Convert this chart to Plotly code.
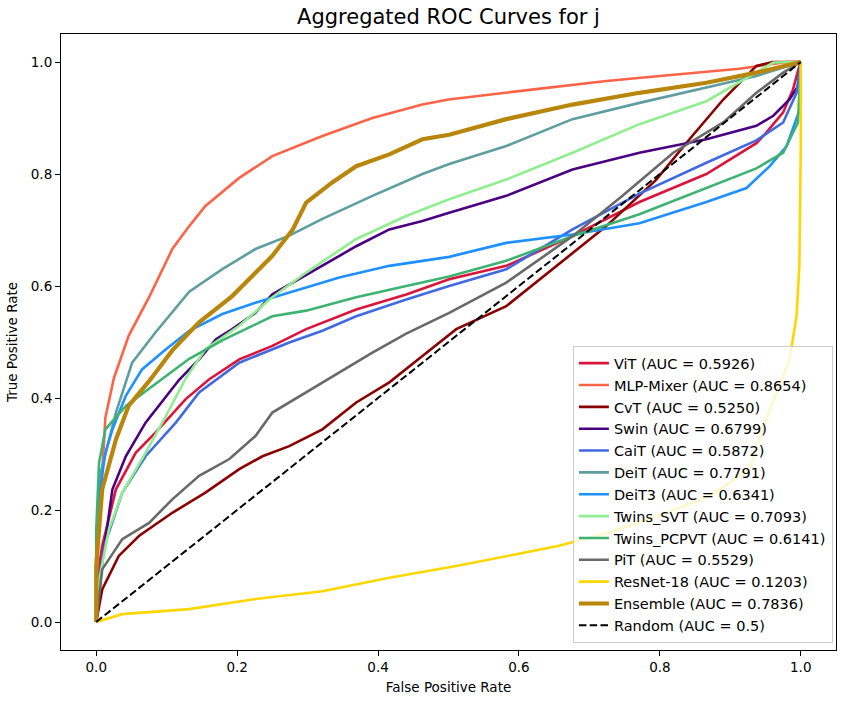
import plotly.graph_objects as go

names = ["ViT", "MLP-Mixer", "CvT", "Swin", "CaiT", "DeiT", "DeiT3", "Twins_SVT",
         "Twins_PCPVT", "PiT", "ResNet-18", "Ensemble"]
aucs = ["0.5926", "0.8654", "0.5250", "0.6799", "0.5872", "0.7791", "0.6341", "0.7093",
        "0.6141", "0.5529", "0.1203", "0.7836"]
colors = ["#DC143C", "#FF6347", "#8B0000", "#4B0082", "#4169E1", "#5F9EA0", "#1E90FF",
          "#90EE90", "#3CB371", "#696969", "#FFD700", "#B8860B"]

vit_fpr = [0, 0.002, 0.0085, 0.028, 0.056, 0.084, 0.127, 0.16, 0.203, 0.25, 0.298, 0.369, 0.44, 0.501, 0.582, 0.676, 0.771, 0.866, 0.937, 0.951, 0.975, 0.989, 0.996, 1.0]
vit_tpr = [0, 0.08, 0.136, 0.237, 0.302, 0.338, 0.398, 0.433, 0.469, 0.493, 0.523, 0.558, 0.585, 0.612, 0.636, 0.689, 0.75, 0.80, 0.855, 0.874, 0.91, 0.951, 0.984, 1.0]

mlp_fpr = [0, 0.002, 0.008, 0.013, 0.025, 0.046, 0.075, 0.108, 0.132, 0.155, 0.203, 0.25, 0.321, 0.392, 0.463, 0.5, 0.6, 0.724, 0.8, 0.913, 0.98, 1.0]
mlp_tpr = [0, 0.15, 0.255, 0.365, 0.435, 0.511, 0.58, 0.666, 0.707, 0.743, 0.793, 0.832, 0.868, 0.90, 0.924, 0.933, 0.948, 0.966, 0.975, 0.988, 1.0, 1.0]

cvt_fpr = [0, 0.0085, 0.032, 0.061, 0.108, 0.155, 0.203, 0.236, 0.274, 0.321, 0.369, 0.416, 0.463, 0.511, 0.582, 0.653, 0.724, 0.795, 0.842, 0.89, 0.937, 0.96, 1.0]
cvt_tpr = [0, 0.058, 0.118, 0.154, 0.195, 0.231, 0.273, 0.296, 0.314, 0.344, 0.392, 0.428, 0.475, 0.523, 0.564, 0.636, 0.707, 0.79, 0.862, 0.933, 0.993, 1.0, 1.0]

swin_fpr = [0, 0.0085, 0.023, 0.042, 0.07, 0.089, 0.118, 0.146, 0.17, 0.193, 0.226, 0.25, 0.288, 0.321, 0.369, 0.416, 0.463, 0.501, 0.582, 0.676, 0.771, 0.866, 0.937, 0.961, 0.984, 0.996, 1.0]
swin_tpr = [0, 0.106, 0.237, 0.296, 0.356, 0.386, 0.433, 0.469, 0.505, 0.523, 0.552, 0.585, 0.612, 0.636, 0.671, 0.701, 0.716, 0.731, 0.761, 0.808, 0.838, 0.862, 0.886, 0.904, 0.933, 0.957, 1.0]

cait_fpr = [0, 0.003, 0.013, 0.037, 0.07, 0.113, 0.146, 0.203, 0.274, 0.321, 0.369, 0.44, 0.501, 0.582, 0.676, 0.771, 0.866, 0.937, 0.975, 0.994, 1.0]
cait_tpr = [0, 0.07, 0.142, 0.231, 0.296, 0.356, 0.41, 0.463, 0.499, 0.52, 0.546, 0.576, 0.60, 0.63, 0.701, 0.765, 0.82, 0.86, 0.892, 0.945, 1.0]

deit_fpr = [0, 0.001, 0.004, 0.028, 0.051, 0.084, 0.132, 0.179, 0.226, 0.274, 0.321, 0.392, 0.463, 0.501, 0.582, 0.676, 0.771, 0.866, 0.937, 1.0]
deit_tpr = [0, 0.15, 0.255, 0.374, 0.463, 0.517, 0.59, 0.63, 0.666, 0.69, 0.72, 0.761, 0.80, 0.818, 0.85, 0.898, 0.927, 0.954, 0.975, 1.0]

deit3_fpr = [0, 0.001, 0.004, 0.013, 0.023, 0.042, 0.065, 0.099, 0.132, 0.179, 0.226, 0.288, 0.345, 0.416, 0.501, 0.582, 0.676, 0.771, 0.866, 0.923, 0.956, 0.98, 0.996, 1.0, 1.0]
deit3_tpr = [0, 0.12, 0.225, 0.302, 0.344, 0.404, 0.451, 0.487, 0.52, 0.55, 0.57, 0.594, 0.615, 0.636, 0.652, 0.677, 0.692, 0.712, 0.75, 0.775, 0.814, 0.85, 0.904, 0.92, 1.0]

svt_fpr = [0, 0.005, 0.018, 0.037, 0.051, 0.07, 0.099, 0.127, 0.155, 0.203, 0.25, 0.298, 0.369, 0.44, 0.501, 0.582, 0.676, 0.771, 0.866, 0.937, 0.961, 1.0]
svt_tpr = [0, 0.08, 0.165, 0.231, 0.261, 0.302, 0.368, 0.435, 0.487, 0.529, 0.58, 0.624, 0.684, 0.725, 0.755, 0.79, 0.838, 0.889, 0.93, 0.981, 0.999, 1.0]

pcpvt_fpr = [0, 0.0, 0.004, 0.013, 0.042, 0.084, 0.132, 0.179, 0.25, 0.298, 0.369, 0.44, 0.501, 0.582, 0.676, 0.771, 0.866, 0.937, 0.975, 0.996, 1.0]
pcpvt_tpr = [0, 0.165, 0.284, 0.344, 0.386, 0.425, 0.47, 0.503, 0.546, 0.556, 0.58, 0.60, 0.617, 0.645, 0.689, 0.728, 0.775, 0.81, 0.838, 0.892, 1.0]

pit_fpr = [0, 0.0085, 0.037, 0.075, 0.108, 0.146, 0.189, 0.226, 0.25, 0.298, 0.345, 0.392, 0.44, 0.501, 0.582, 0.676, 0.747, 0.819, 0.89, 0.937, 0.975, 1.0]
pit_tpr = [0, 0.094, 0.148, 0.177, 0.219, 0.261, 0.291, 0.332, 0.374, 0.41, 0.445, 0.481, 0.515, 0.552, 0.606, 0.689, 0.761, 0.838, 0.892, 0.945, 0.981, 1.0]

resnet_fpr = [0, 0.037, 0.132, 0.226, 0.321, 0.416, 0.511, 0.605, 0.657, 0.728, 0.799, 0.871, 0.927, 0.946, 0.96, 0.984, 0.994, 0.998, 1.0, 1.0]
resnet_tpr = [0, 0.014, 0.023, 0.041, 0.055, 0.079, 0.10, 0.124, 0.136, 0.16, 0.19, 0.225, 0.273, 0.344, 0.392, 0.469, 0.546, 0.636, 0.845, 1.0]

ens_fpr = [0, 0.0, 0.0085, 0.028, 0.046, 0.075, 0.108, 0.146, 0.193, 0.226, 0.25, 0.279, 0.298, 0.335, 0.369, 0.416, 0.463, 0.501, 0.582, 0.676, 0.771, 0.866, 0.937, 1.0]
ens_tpr = [0, 0.1, 0.237, 0.326, 0.386, 0.43, 0.485, 0.535, 0.582, 0.624, 0.654, 0.701, 0.749, 0.785, 0.814, 0.835, 0.862, 0.87, 0.898, 0.924, 0.945, 0.963, 0.981, 1.0]

random_fpr = [0, 1]
random_tpr = [0, 1]

fprs = [vit_fpr, mlp_fpr, cvt_fpr, swin_fpr, cait_fpr, deit_fpr, deit3_fpr, svt_fpr,
        pcpvt_fpr, pit_fpr, resnet_fpr, ens_fpr]
tprs = [vit_tpr, mlp_tpr, cvt_tpr, swin_tpr, cait_tpr, deit_tpr, deit3_tpr, svt_tpr,
        pcpvt_tpr, pit_tpr, resnet_tpr, ens_tpr]

FONT = "DejaVu Sans"

fig = go.Figure()
for n, a, c, fx, ty in zip(names, aucs, colors, fprs, tprs):
    w = 4.2 if n == "Ensemble" else 2.6
    fig.add_trace(go.Scatter(x=fx, y=ty, mode="lines", name=f"{n} (AUC = {a})",
                             line=dict(color=c, width=w)))
fig.add_trace(go.Scatter(x=random_fpr, y=random_tpr, mode="lines", name="Random (AUC = 0.5)",
                         line=dict(color="black", width=2, dash="7.5px,3.3px")))

axis_common = dict(showgrid=False, zeroline=False, showline=True, linecolor="black",
                   linewidth=1.1, mirror=True, ticks="outside", ticklen=5, tickwidth=1.1,
                   tickcolor="black", tickfont=dict(family=FONT, size=13.5, color="black"),
                   tickvals=[0, 0.2, 0.4, 0.6, 0.8, 1.0],
                   ticktext=["0.0", "0.2", "0.4", "0.6", "0.8", "1.0"])

fig.update_layout(
    width=846, height=703,
    margin=dict(l=61, r=10, t=34, b=53),
    paper_bgcolor="white", plot_bgcolor="white",
    font=dict(family=FONT, color="black"),
    title=dict(text="Aggregated ROC Curves for j", x=(61 + 836) / 2 / 846, xanchor="center",
               y=1 - 17 / 703, yanchor="middle", font=dict(family=FONT, size=21, color="black")),
    xaxis=dict(range=[-0.05, 1.05], title=dict(text="False Positive Rate", font=dict(family=FONT, size=13.5), standoff=8),
               **axis_common),
    yaxis=dict(range=[-0.05, 1.05], title=dict(text="True Positive Rate", font=dict(family=FONT, size=13.5), standoff=10),
               **axis_common),
    legend=dict(x=0.996, y=0.011, xanchor="right", yanchor="bottom",
                bgcolor="rgba(255,255,255,0.8)", bordercolor="#cccccc", borderwidth=1,
                font=dict(family=FONT, size=14.5, color="black"), itemwidth=30, tracegroupgap=0),
    showlegend=True,
)

fig.write_html("out.html")
